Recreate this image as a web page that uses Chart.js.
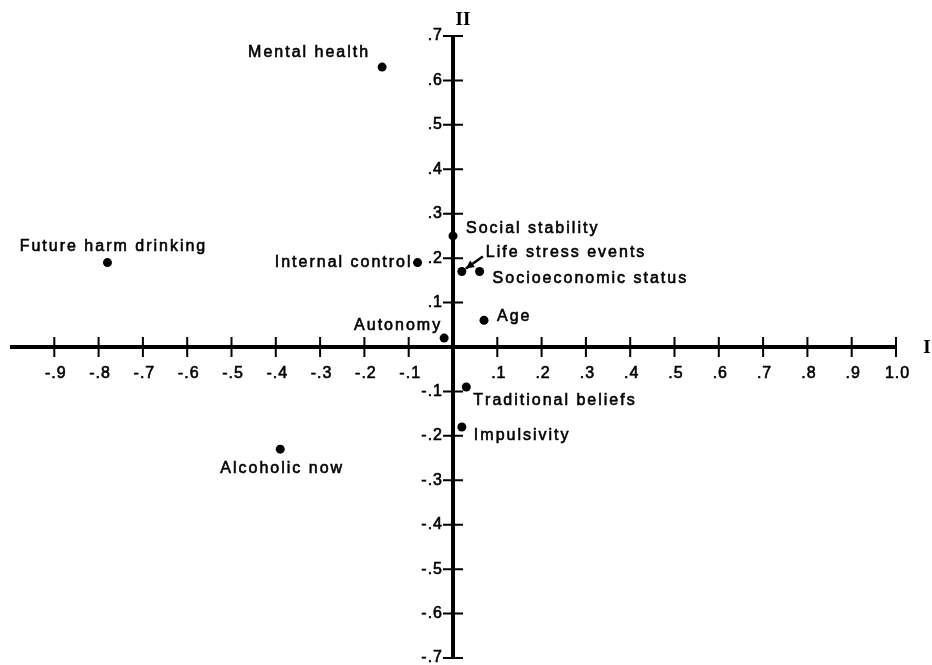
<!DOCTYPE html>
<html><head><meta charset="utf-8">
<script src="https://cdn.jsdelivr.net/npm/chart.js@4/dist/chart.umd.min.js"></script>
<style>html,body{margin:0;padding:0;background:#fff}canvas{display:block}</style>
</head><body>
<canvas id="c" width="932" height="665"></canvas>
<script>
// ---- data ----
const categories = ['Mental health','Future harm drinking','Internal control','Social stability','Life stress events','Socioeconomic status','Age','Autonomy','Traditional beliefs','Impulsivity','Alcoholic now'];
const factorI  = [-0.16, -0.78, -0.08, 0.00, 0.02, 0.06, 0.07, -0.02, 0.03, 0.02, -0.39];
const factorII = [ 0.63,  0.19,  0.19, 0.25, 0.17, 0.17, 0.06,  0.02, -0.09, -0.18, -0.23];
const xTickValues = [-0.9,-0.8,-0.7,-0.6,-0.5,-0.4,-0.3,-0.2,-0.1,0.1,0.2,0.3,0.4,0.5,0.6,0.7,0.8,0.9,1.0];
const xTickLabels = ['-.9','-.8','-.7','-.6','-.5','-.4','-.3','-.2','-.1','.1','.2','.3','.4','.5','.6','.7','.8','.9','1.0'];
const yTickValues = [0.7,0.6,0.5,0.4,0.3,0.2,0.1,-0.1,-0.2,-0.3,-0.4,-0.5,-0.6,-0.7];
const yTickLabels = ['.7','.6','.5','.4','.3','.2','.1','-.1','-.2','-.3','-.4','-.5','-.6','-.7'];
const axisTitles = ['I', 'II'];

// ---- label placement (style only: pixel offsets from the point) ----
const labelPlacement = [
  {dx:-14, dy:-15, align:'right'},   // Mental health
  {dx:5,   dy:-16, align:'center'},  // Future harm drinking
  {dx:-7,  dy:0,   align:'right'},   // Internal control
  {dx:13,  dy:-7,  align:'left'},    // Social stability
  {dx:24,  dy:-19, align:'left', arrow:true}, // Life stress events
  {dx:13,  dy:7,   align:'left'},    // Socioeconomic status
  {dx:13,  dy:-4,  align:'left'},    // Age
  {dx:-4,  dy:-13, align:'right'},   // Autonomy
  {dx:7,   dy:14,  align:'left'},    // Traditional beliefs
  {dx:12,  dy:9,   align:'left'},    // Impulsivity
  {dx:1,   dy:19,  align:'center'}   // Alcoholic now
];

const FONT = '16px "Liberation Sans", Arial, sans-serif';

function drawSpaced(ctx, text, x, y, align, spacing) {
  ctx.textAlign = 'left';
  let w = 0;
  const ws = [];
  for (const ch of text) { const cw = ctx.measureText(ch).width; ws.push(cw); w += cw; }
  w += spacing * (text.length - 1);
  let sx = x;
  if (align === 'right') sx = x - w;
  else if (align === 'center') sx = x - w / 2;
  let i = 0;
  for (const ch of text) {
    ctx.fillText(ch, sx, y);
    ctx.strokeText(ch, sx, y);
    sx += ws[i++] + spacing;
  }
}

const axesPlugin = {
  id: 'crossAxes',
  beforeDatasetsDraw(chart) {
    const ctx = chart.ctx, xs = chart.scales.x, ys = chart.scales.y;
    const x0 = xs.getPixelForValue(0), y0 = ys.getPixelForValue(0);
    ctx.save();
    ctx.strokeStyle = '#000';
    ctx.lineCap = 'butt';
    // main axes
    ctx.lineWidth = 4;
    ctx.beginPath();
    ctx.moveTo(xs.getPixelForValue(xs.min), y0); ctx.lineTo(xs.getPixelForValue(xs.max), y0);
    ctx.moveTo(x0, ys.getPixelForValue(ys.max)); ctx.lineTo(x0, ys.getPixelForValue(ys.min));
    ctx.stroke();
    // ticks
    ctx.lineWidth = 2;
    ctx.beginPath();
    xTickValues.forEach(v => { const px = xs.getPixelForValue(v); ctx.moveTo(px, y0 - 10); ctx.lineTo(px, y0 + 10); });
    yTickValues.forEach(v => { const py = ys.getPixelForValue(v); ctx.moveTo(x0 - 10, py); ctx.lineTo(x0 + 10, py); });
    ctx.stroke();
    // tick labels
    ctx.fillStyle = '#000';
    ctx.font = FONT;
    ctx.lineWidth = 0.6;
    ctx.textBaseline = 'middle';
    xTickValues.forEach((v, i) => drawSpaced(ctx, xTickLabels[i], xs.getPixelForValue(v) + 1, y0 + 27, 'center', 1));
    yTickValues.forEach((v, i) => drawSpaced(ctx, yTickLabels[i], x0 - 11, ys.getPixelForValue(v), 'right', 1));
    // axis titles
    ctx.font = 'bold 19px "Liberation Serif", "Times New Roman", serif';
    ctx.textAlign = 'center';
    ctx.fillText(axisTitles[0], xs.getPixelForValue(xs.max) + 31, y0 + 1);
    ctx.fillText(axisTitles[1], x0 + 10, ys.getPixelForValue(ys.max) - 16);
    ctx.restore();
  },
  afterDatasetsDraw(chart) {
    const ctx = chart.ctx, meta = chart.getDatasetMeta(0);
    ctx.save();
    ctx.fillStyle = '#000';
    ctx.strokeStyle = '#000';
    ctx.font = FONT;
    ctx.textBaseline = 'middle';
    meta.data.forEach((pt, i) => {
      const p = labelPlacement[i];
      ctx.lineWidth = 0.6;
      drawSpaced(ctx, categories[i], pt.x + p.dx, pt.y + p.dy, p.align, 2);
      if (p.arrow) {
        const sx = pt.x + p.dx - 3, sy = pt.y + p.dy + 4;
        const ex = pt.x + 4, ey = pt.y - 3;
        ctx.lineWidth = 2.5;
        ctx.beginPath(); ctx.moveTo(sx, sy); ctx.lineTo(ex, ey); ctx.stroke();
        const ang = Math.atan2(ey - sy, ex - sx);
        ctx.beginPath();
        ctx.moveTo(ex, ey);
        ctx.lineTo(ex - 9 * Math.cos(ang - 0.45), ey - 9 * Math.sin(ang - 0.45));
        ctx.lineTo(ex - 9 * Math.cos(ang + 0.45), ey - 9 * Math.sin(ang + 0.45));
        ctx.closePath(); ctx.fill();
      }
    });
    ctx.restore();
  }
};

new Chart(document.getElementById('c'), {
  type: 'scatter',
  data: {
    datasets: [{
      label: 'Variables',
      data: factorI.map((x, i) => ({x: x, y: factorII[i]})),
      backgroundColor: '#000',
      borderColor: '#000',
      pointRadius: 4.5,
      pointBorderWidth: 0,
      clip: false
    }]
  },
  options: {
    responsive: false,
    devicePixelRatio: 1,
    animation: false,
    layout: {padding: {left: 10, right: 36, top: 36, bottom: 7}},
    plugins: {legend: {display: false}, tooltip: {enabled: false}},
    scales: {
      x: {type: 'linear', min: -1.0, max: 1.0, display: false},
      y: {type: 'linear', min: -0.7, max: 0.7, display: false}
    }
  },
  plugins: [axesPlugin]
});
</script>
</body></html>
